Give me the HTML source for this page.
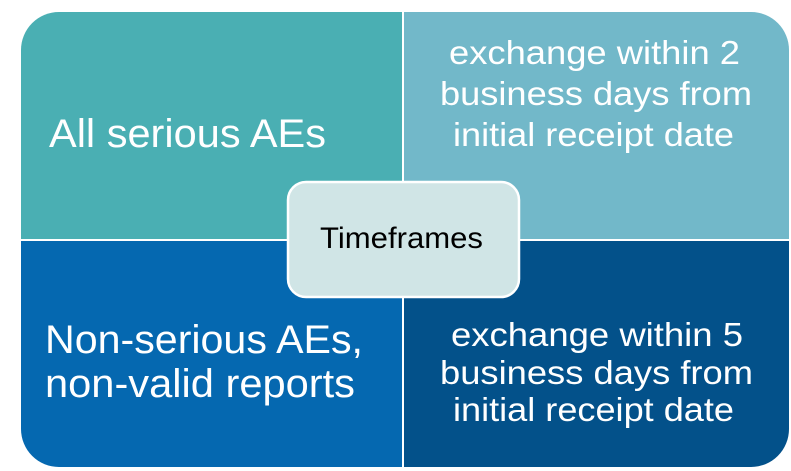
<!DOCTYPE html>
<html><head><meta charset="utf-8"><style>
html,body{margin:0;padding:0;background:#fff;width:791px;height:471px;overflow:hidden}
svg{display:block}
text{font-family:"Liberation Sans",Arial,sans-serif;fill:#fff}
</style></head><body>
<svg width="791" height="471" viewBox="0 0 791 471" xmlns="http://www.w3.org/2000/svg">
<defs><clipPath id="c"><rect x="21" y="12" width="768" height="455" rx="38" ry="38"/></clipPath></defs>
<g clip-path="url(#c)">
<rect x="21" y="12" width="382" height="228" fill="#4aafb3"/>
<rect x="403" y="12" width="386" height="228" fill="#72b8c9"/>
<rect x="21" y="240" width="382" height="227" fill="#0568b0"/>
<rect x="403" y="240" width="386" height="227" fill="#03518a"/>
<rect x="402" y="12" width="2" height="455" fill="#fff"/>
<rect x="21" y="239" width="768" height="2" fill="#fff"/>
</g>
<rect x="288" y="182" width="231" height="115" rx="18" ry="18" fill="#d0e5e6" stroke="#fff" stroke-width="2.5"/>
<text x="320" y="248" font-size="30" textLength="163" lengthAdjust="spacingAndGlyphs" style="fill:#000">Timeframes</text>
<text x="49" y="147" font-size="40" textLength="277" lengthAdjust="spacingAndGlyphs">All serious AEs</text>
<text x="449" y="64" font-size="33" textLength="291" lengthAdjust="spacingAndGlyphs">exchange within 2</text>
<text x="440" y="105" font-size="33" textLength="312" lengthAdjust="spacingAndGlyphs">business days from</text>
<text x="453" y="146" font-size="33" textLength="281" lengthAdjust="spacingAndGlyphs">initial receipt date</text>
<text x="45" y="353" font-size="40" textLength="318" lengthAdjust="spacingAndGlyphs">Non-serious AEs,</text>
<text x="45" y="397" font-size="40" textLength="310" lengthAdjust="spacingAndGlyphs">non-valid reports</text>
<text x="451" y="346" font-size="33" textLength="292" lengthAdjust="spacingAndGlyphs">exchange within 5</text>
<text x="440" y="384" font-size="33" textLength="313" lengthAdjust="spacingAndGlyphs">business days from</text>
<text x="453" y="421" font-size="33" textLength="281" lengthAdjust="spacingAndGlyphs">initial receipt date</text>
</svg>
</body></html>
